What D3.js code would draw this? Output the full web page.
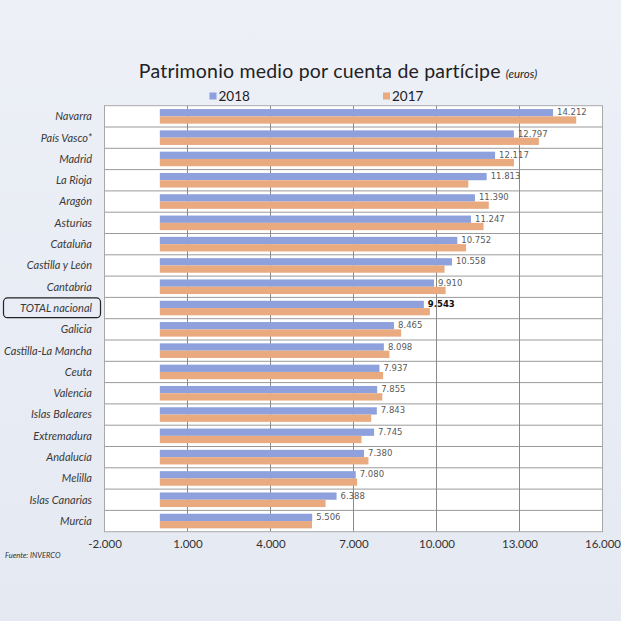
<!DOCTYPE html>
<html><head><meta charset="utf-8">
<script src="https://cdn.jsdelivr.net/npm/d3@7"></script>
<style>
html,body{margin:0;padding:0;background:#e9edf5;}
svg{display:block;}
</style></head>
<body>
<script>
const categories = ["Navarra","País Vasco*","Madrid","La Rioja","Aragón","Asturias","Cataluña","Castilla y León","Cantabria","TOTAL nacional","Galicia","Castilla-La Mancha","Ceuta","Valencia","Islas Baleares","Extremadura","Andalucía","Melilla","Islas Canarias","Murcia"];
const values2018 = [14212,12797,12117,11813,11390,11247,10752,10558,9910,9543,8465,8098,7937,7855,7843,7745,7380,7080,6388,5506];
const values2017 = [15050,13700,12800,11150,11890,11700,11070,10290,10330,9760,8720,8300,8070,8040,7640,7290,7540,7130,5990,5500];
const seriesNames = ["2018","2017"];
const xTicks = [-2000,1000,4000,7000,10000,13000,16000];
const highlight = "TOTAL nacional";
const colors = {"2018":"#8ea1dc","2017":"#e9aa80"};

const W = 621, H = 621;
const svg = d3.select("body").append("svg").attr("width",W).attr("height",H);

const defs = svg.append("defs");
const grad = defs.append("linearGradient").attr("id","bg").attr("x1",0).attr("y1",0).attr("x2",0).attr("y2",1);
grad.append("stop").attr("offset","0%").attr("stop-color","#edf0f7");
grad.append("stop").attr("offset","100%").attr("stop-color","#e5e9f2");
svg.append("rect").attr("width",W).attr("height",H).attr("fill","url(#bg)");

const loc = d3.formatLocale({decimal:",",thousands:".",grouping:[3],currency:["","€"],minus:"-"});
const fmt = loc.format(",d");

const m = {left:104.5, right:602.5, top:105.7, bottom:531.7};
const x = d3.scaleLinear().domain([-2000,16000]).range([m.left,m.right]);
const y = d3.scaleBand().domain(categories).range([m.top,m.bottom]).padding(0);
const ys = d3.scaleBand().domain(seriesNames).range([0,y.bandwidth()]).paddingInner(0).paddingOuter(0.46);

// plot background
svg.append("rect").attr("x",m.left).attr("y",m.top).attr("width",m.right-m.left).attr("height",m.bottom-m.top).attr("fill","#ffffff");

// horizontal row lines
svg.append("g").selectAll("line").data(categories.slice(1)).join("line")
  .attr("x1",m.left).attr("x2",m.right)
  .attr("y1",d=>y(d)).attr("y2",d=>y(d))
  .attr("stroke","#9a9a9a").attr("stroke-width",1);

// vertical grid
svg.append("g").selectAll("line").data(xTicks.slice(1,-1)).join("line")
  .attr("x1",d=>x(d)).attr("x2",d=>x(d))
  .attr("y1",m.top).attr("y2",m.bottom)
  .attr("stroke","#8a8a8a").attr("stroke-width",1);

// bars
const rows = categories.map((c,i)=>({c, v:{"2018":values2018[i],"2017":values2017[i]}}));
const g = svg.append("g");
seriesNames.forEach(s=>{
  g.selectAll(".b"+s).data(rows).join("rect")
    .attr("x",x(0))
    .attr("y",d=>y(d.c)+ys(s))
    .attr("width",d=>x(d.v[s])-x(0))
    .attr("height",ys.bandwidth())
    .attr("fill",colors[s]);
});

// border
svg.append("rect").attr("x",m.left).attr("y",m.top).attr("width",m.right-m.left).attr("height",m.bottom-m.top)
  .attr("fill","none").attr("stroke","#a8a8a8").attr("stroke-width",1);

// value labels
svg.append("g").selectAll("text").data(rows).join("text")
  .attr("x",d=>x(d.v["2018"])+4)
  .attr("y",d=>y(d.c)+ys("2018")+ys.bandwidth()/2)
  .attr("dy","0.3em")
  .attr("font-family","DejaVu Sans, sans-serif")
  .attr("font-size",8.5)
  .attr("font-weight",d=>d.c===highlight?"bold":"normal")
  .attr("fill",d=>d.c===highlight?"#111":"#5a5a5a")
  .text(d=>fmt(d.v["2018"]));

// category labels
svg.append("g").selectAll("text").data(categories).join("text")
  .attr("x",92)
  .attr("y",d=>y(d)+y.bandwidth()/2)
  .attr("dy","0.35em")
  .attr("text-anchor","end")
  .attr("font-family","Lato, sans-serif")
  .attr("font-style","italic")
  .attr("font-size",11)
  .attr("fill","#3a3a3a")
  .text(d=>d);

// highlight box
svg.append("rect")
  .attr("x",3.5).attr("y",y(highlight)+0.5)
  .attr("width",97).attr("height",y.bandwidth()-1.5)
  .attr("rx",4).attr("fill","none").attr("stroke","#222").attr("stroke-width",1.2);

// x axis labels
const xAxis = d3.axisBottom(x).tickValues(xTicks).tickSize(0).tickPadding(0).tickFormat(d=>fmt(d));
const ax = svg.append("g").attr("transform",`translate(0,${m.bottom+8})`).call(xAxis);
ax.select(".domain").remove();
ax.selectAll("text").attr("font-family","Lato, sans-serif").attr("font-size",11.5).attr("fill","#333").attr("dy","0.71em");

// title
const t = svg.append("text").attr("x",338).attr("y",78).attr("text-anchor","middle")
  .attr("font-family","Lato, sans-serif").attr("fill","#222");
t.append("tspan").attr("font-size",19.5).attr("letter-spacing",0.2).text("Patrimonio medio por cuenta de partícipe ");
t.append("tspan").attr("font-size",11.5).attr("font-style","italic").text("(euros)");

// legend
const lg = svg.append("g").selectAll("g").data(seriesNames).join("g")
  .attr("transform",(d,i)=>`translate(${i===0?209.5:383},0)`);
lg.append("rect").attr("x",0).attr("y",92.5).attr("width",7).attr("height",7).attr("fill",d=>colors[d]);
lg.append("text").attr("x",9).attr("y",101).attr("font-family","Lato, sans-serif").attr("font-size",13.5).attr("fill","#222").text(d=>d);

// footer
svg.append("text").attr("x",5).attr("y",558).attr("font-family","Lato, sans-serif").attr("font-style","italic")
  .attr("font-size",7.5).attr("fill","#333").text("Fuente: INVERCO");
</script>
</body></html>
